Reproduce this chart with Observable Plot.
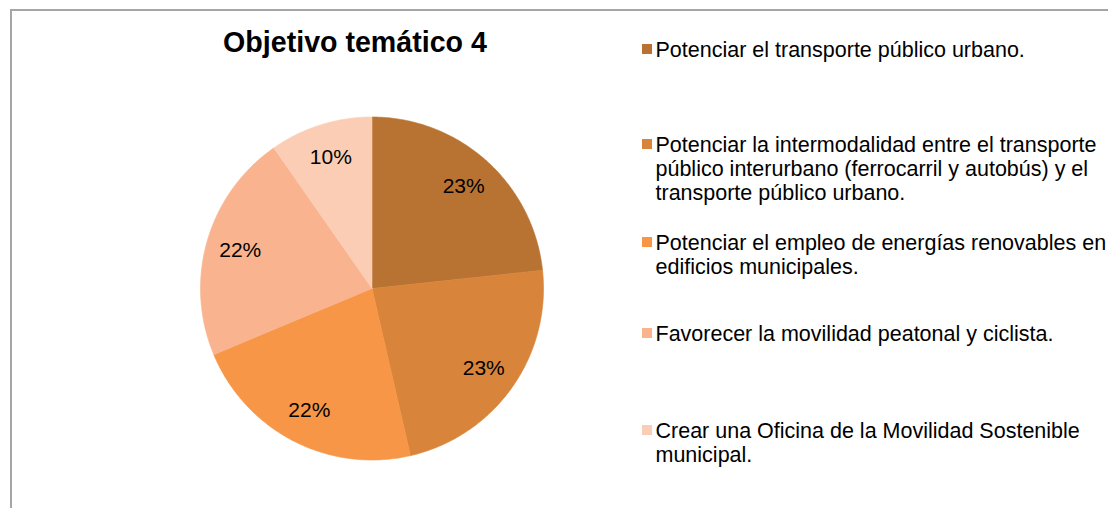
<!DOCTYPE html>
<html>
<head>
<meta charset="utf-8">
<script src="https://cdn.jsdelivr.net/npm/d3@7"></script>
<script src="https://cdn.jsdelivr.net/npm/@observablehq/plot@0.6"></script>
<style>
  html, body { margin: 0; padding: 0; background: #fff; }
  #page { position: relative; width: 1108px; height: 508px; overflow: hidden; font-family: "Liberation Sans", Arial, sans-serif; color: #000; }
  #frame { position: absolute; left: 10px; top: 9px; width: 1120px; height: 520px; border-top: 2px solid #a6a6a6; border-left: 2px solid #a6a6a6; }
  #chart { position: absolute; left: 0; top: 0; }
  #title { position: absolute; left: 105px; top: 25px; width: 500px; text-align: center; font-size: 28.6px; font-weight: bold; line-height: 34px; }
  .item { position: absolute; left: 642px; }
  .sw { position: absolute; left: 0; width: 10px; height: 10px; }
  .lbl { position: absolute; left: 13.5px; font-size: 21.5px; line-height: 24.3px; white-space: nowrap; }
</style>
</head>
<body>
<div id="page">
  <div id="frame"></div>
  <div id="chart"></div>
  <div id="title"></div>
</div>
<script>
const title = "Objetivo temático 4";
const categories = [
  "Potenciar el transporte público urbano.",
  "Potenciar la intermodalidad entre el transporte público interurbano (ferrocarril y autobús) y el transporte público urbano.",
  "Potenciar el empleo de energías renovables en edificios municipales.",
  "Favorecer la movilidad peatonal y ciclista.",
  "Crear una Oficina de la Movilidad Sostenible municipal."
];
const legendLines = [
  ["Potenciar el transporte público urbano."],
  ["Potenciar la intermodalidad entre el transporte", "público interurbano (ferrocarril y autobús) y el", "transporte público urbano."],
  ["Potenciar el empleo de energías renovables en", "edificios municipales."],
  ["Favorecer la movilidad peatonal y ciclista."],
  ["Crear una Oficina de la Movilidad Sostenible", "municipal."]
];
const values = [23.3, 23.1, 22.3, 21.6, 9.7];
const colors = ["#B87333", "#D9843B", "#F79646", "#F9B48F", "#FBCDB5"];

document.getElementById("title").textContent = title;

const arcs = d3.pie().sort(null).value(d => d)(values);
const marks = [];
arcs.forEach((a, i) => {
  const pts = [[0, 0]];
  const n = Math.max(8, Math.ceil((a.endAngle - a.startAngle) / 0.01));
  for (let k = 0; k <= n; k++) {
    const t = a.startAngle + (a.endAngle - a.startAngle) * k / n;
    pts.push([Math.sin(t), Math.cos(t)]);
  }
  pts.push([0, 0]);
  marks.push(Plot.line(pts, {x: d => d[0], y: d => d[1], fill: colors[i], stroke: colors[i], strokeWidth: 0.6, curve: "linear"}));
});
const labels = arcs.map((a, i) => {
  const m = (a.startAngle + a.endAngle) / 2;
  return {x: 0.8 * Math.sin(m), y: 0.8 * Math.cos(m), text: Math.round(values[i]) + "%"};
});
marks.push(Plot.text(labels, {x: "x", y: "y", text: "text", fontSize: 21, fill: "#000", fontFamily: "Liberation Sans, Arial, sans-serif"}));

const chart = Plot.plot({
  width: 1108,
  height: 508,
  margin: 0,
  style: {background: "transparent", overflow: "visible"},
  x: {domain: [-1, 1], range: [200, 543], axis: null},
  y: {domain: [-1, 1], range: [459.5, 116.5], axis: null},
  marks
});
document.getElementById("chart").appendChild(chart);

const tops = [37.5, 132.5, 230.5, 321.5, 418.5];
const page = document.getElementById("page");
legendLines.forEach((lines, i) => {
  const item = document.createElement("div");
  item.className = "item";
  item.style.top = tops[i] + "px";
  item.title = categories[i];
  const sw = document.createElement("div");
  sw.className = "sw";
  sw.style.top = "6.5px";
  sw.style.background = colors[i];
  const lbl = document.createElement("div");
  lbl.className = "lbl";
  lbl.style.top = "0px";
  lbl.innerHTML = lines.map(s => s.replace(/&/g, "&amp;").replace(/</g, "&lt;")).join("<br>");
  item.appendChild(sw);
  item.appendChild(lbl);
  page.appendChild(item);
});
</script>
</body>
</html>
